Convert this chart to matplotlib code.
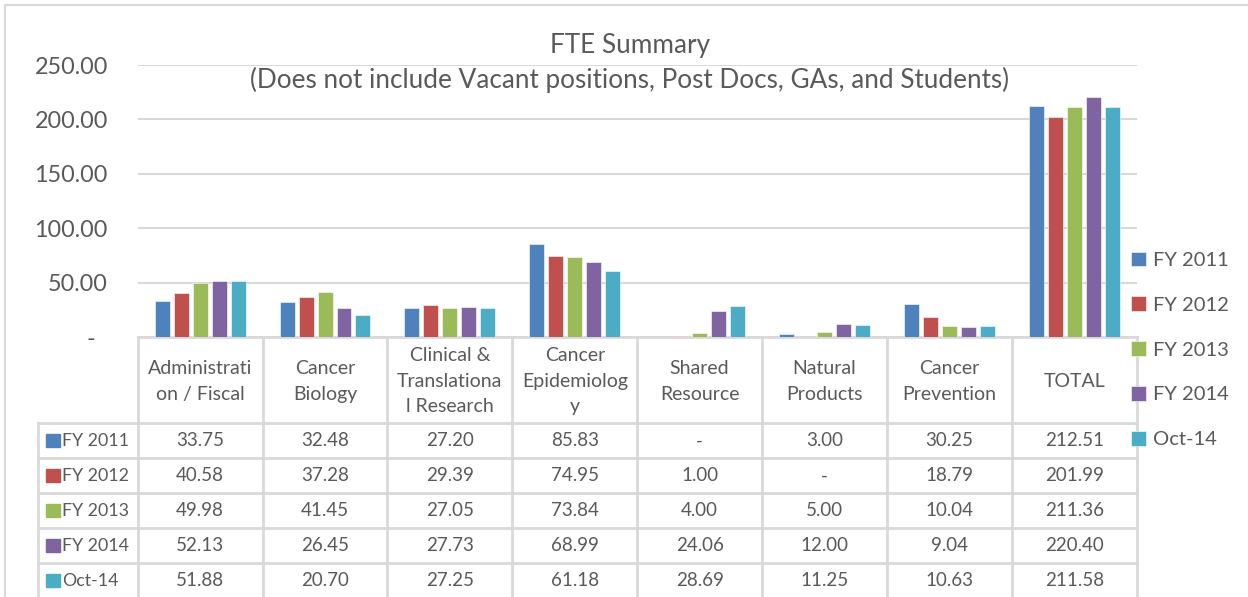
import numpy as np
import matplotlib.pyplot as plt
from matplotlib.ticker import FuncFormatter

plt.rcParams['font.family'] = ['Lato', 'DejaVu Sans']

categories = ['Administration / Fiscal', 'Cancer Biology', 'Clinical & Translational Research',
              'Cancer Epidemiology', 'Shared Resource', 'Natural Products', 'Cancer Prevention', 'TOTAL']
# header text as wrapped in the sheet
header_labels = ['Administrati\non / Fiscal', 'Cancer\nBiology', 'Clinical &\nTranslationa\nl Research',
                 'Cancer\nEpidemiolog\ny', 'Shared\nResource', 'Natural\nProducts', 'Cancer\nPrevention', 'TOTAL']
series_names = ['FY 2011', 'FY 2012', 'FY 2013', 'FY 2014', 'Oct-14']

fy2011 = [33.75, 32.48, 27.20, 85.83, 0.00, 3.00, 30.25, 212.51]
fy2012 = [40.58, 37.28, 29.39, 74.95, 1.00, 0.00, 18.79, 201.99]
fy2013 = [49.98, 41.45, 27.05, 73.84, 4.00, 5.00, 10.04, 211.36]
fy2014 = [52.13, 26.45, 27.73, 68.99, 24.06, 12.00, 9.04, 220.40]
oct14 = [51.88, 20.70, 27.25, 61.18, 28.69, 11.25, 10.63, 211.58]
series = [fy2011, fy2012, fy2013, fy2014, oct14]

colors = ['#4F81BD', '#C0504D', '#9BBB59', '#8064A2', '#4BACC6']
txt = '#595959'
grid = '#D9D9D9'

W, H = 1248, 597
fig = plt.figure(figsize=(W / 100, H / 100), dpi=100)

# pixel layout of the plot area
left, right, top, base = 137.7, 1136.7, 65.0, 337.3
ax = fig.add_axes([left / W, 1 - base / H, (right - left) / W, (base - top) / H], zorder=2)
ax.patch.set_alpha(0)

n = len(categories)
x = np.arange(n)
bw, step = 0.12, 0.152
for k, (vals, name) in enumerate(zip(series, series_names)):
    ax.bar(x + (k - 2) * step, vals, bw, color=colors[k], edgecolor='white', linewidth=0.4,
           label=name, zorder=3)

ax.set_xlim(-0.5, n - 0.5)
ax.set_ylim(0, 250)
ax.set_yticks([0, 50, 100, 150, 200, 250])
ax.yaxis.set_major_formatter(FuncFormatter(lambda v, p: '-  ' if v == 0 else f'{v:.2f}'))
ax.tick_params(axis='y', length=0, pad=21.4, labelsize=16.8, labelcolor=txt)
ax.set_xticks([])
for s in ax.spines.values():
    s.set_visible(False)
ax.yaxis.grid(True, color=grid, linewidth=1.5, zorder=0)
ax.set_axisbelow(True)

# table drawn in pixel coordinates
tax = fig.add_axes([0, 0, 1, 1], zorder=1)
tax.set_xlim(0, W)
tax.set_ylim(H, 0)
tax.axis('off')

# chart border
tax.plot([5, 5, W + 5], [H + 5, 5, 5], color=grid, lw=1.5)

colw = (right - left) / n
lab_left = 38.3
head_bot = 423.3
rowh = 35.0
nrows = len(series)
bottom = H + 5

tax.plot([left, right], [base, base], color=grid, lw=2)
for i in range(n + 1):
    xx = left + i * colw
    tax.plot([xx, xx], [base, bottom], color=grid, lw=2)
tax.plot([lab_left, lab_left], [head_bot, bottom], color=grid, lw=2)
for r in range(nrows):
    yy = head_bot + r * rowh
    tax.plot([lab_left, right], [yy, yy], color=grid, lw=2)

for i, lab in enumerate(header_labels):
    tax.text(left + (i + 0.5) * colw, (base + head_bot) / 2 + 1, lab, ha='center', va='center',
             fontsize=14, color=txt, linespacing=1.62)

for r, (vals, name) in enumerate(zip(series, series_names)):
    yc = head_bot + (r + 0.5) * rowh
    tax.add_patch(plt.Rectangle((46, yc - 6.5), 13.5, 13, color=colors[r]))
    tax.text(62.5, yc, name, ha='left', va='center', fontsize=12.8, color=txt)
    for i, v in enumerate(vals):
        s = '-' if v == 0 else f'{v:.2f}'
        tax.text(left + (i + 0.5) * colw, yc, s, ha='center', va='center', fontsize=13.5, color=txt)

fig.text(630 / W, 1 - 45 / H, 'FTE Summary', ha='center', va='center', fontsize=18.8, color=txt)
fig.text(630 / W, 1 - 80 / H, '(Does not include Vacant positions, Post Docs, GAs, and Students)',
         ha='center', va='center', fontsize=18.8, color=txt)

fig.legend(loc='upper left', bbox_to_anchor=(1113 / W, 1 - 233.5 / H), frameon=False,
           fontsize=14.5, handlelength=0.75, handleheight=0.75, handletextpad=0.35,
           labelspacing=1.36, labelcolor=txt)

fig.savefig('out.png', dpi=100)
